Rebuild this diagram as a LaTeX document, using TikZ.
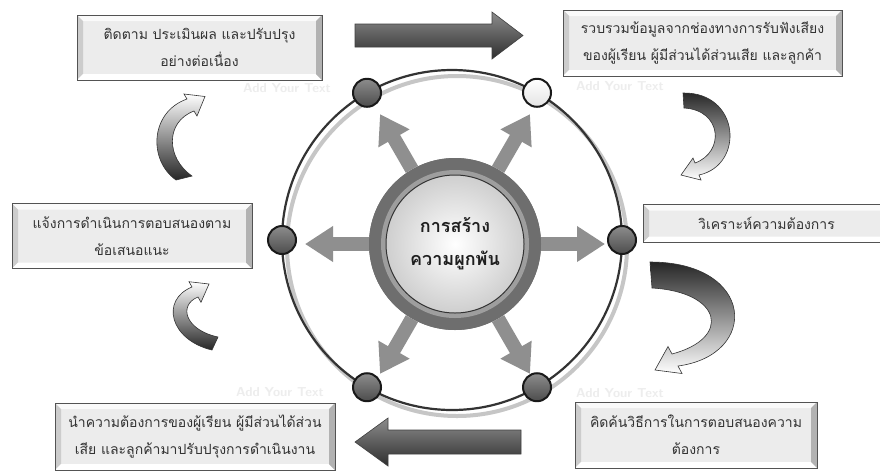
\documentclass[tikz,border=0pt]{standalone}
\usepackage{fontspec}
\setmainfont{Liberation Sans}
\newfontfamily\thaifont[Script=Thai]{Loma}
\usetikzlibrary{arrows.meta,calc}

\begin{document}
\begin{tikzpicture}[x=1pt,y=-1pt,
  panel/.style={rectangle, draw=gray!65!black, line width=0.7pt, fill=gray!15,
    inner sep=0pt, align=center, text=black!80,
    font=\thaifont\fontsize{14}{27}\selectfont,
    path picture={
      \coordinate (pnw) at (path picture bounding box.north west);
      \coordinate (pne) at (path picture bounding box.north east);
      \coordinate (psw) at (path picture bounding box.south west);
      \coordinate (pse) at (path picture bounding box.south east);
      \fill[gray!4] (pnw) -- (pne) -- ([shift={(-6pt,-6pt)}]pne) -- ([shift={(6pt,-6pt)}]pnw) -- cycle;
      \fill[gray!40] (pnw) -- ([shift={(6pt,-6pt)}]pnw) -- ([shift={(6pt,6pt)}]psw) -- (psw) -- cycle;
      \fill[white] (psw) -- ([shift={(6pt,6pt)}]psw) -- ([shift={(-6pt,6pt)}]pse) -- (pse) -- cycle;
      \fill[gray!60] (pse) -- ([shift={(-6pt,6pt)}]pse) -- ([shift={(-6pt,-6pt)}]pne) -- (pne) -- cycle;
    }},
  dot/.style={circle, draw=black!90, line width=2pt, minimum size=28pt, inner sep=0pt,
    top color=black!45, bottom color=black!70},
  lightdot/.style={dot, top color=white, bottom color=gray!22},
  spoke/.style={draw=black!44, line width=14pt,
    -{Triangle[width=34pt,length=28pt]}},
  ghost/.style={text=gray!14, font=\sffamily\bfseries\fontsize{13}{13}\selectfont},
  curv/.style={draw=gray!40!black, line width=0.6pt},
  bigarrow/.style={draw=black!75, line width=0.6pt,
    top color=black!45, bottom color=black!82},
]
\useasboundingbox (0,0) rectangle (880,475);
\fill[white] (0,0) rectangle (880,475);

% main ring with its soft shadow
\coordinate (c) at (452,240);
\draw[gray!45, line width=4pt] (457,246) circle (170pt);
\draw[black!80, line width=2.2pt] (c) circle (170pt);

% ring markers
\node[dot]      (d0)   at ($(c)+(0:170pt)$)   {};
\node[lightdot] (d60)  at ($(c)+(60:170pt)$)  {};
\node[dot]      (d120) at ($(c)+(120:170pt)$) {};
\node[dot]      (d180) at ($(c)+(180:170pt)$) {};
\node[dot]      (d240) at ($(c)+(240:170pt)$) {};
\node[dot]      (d300) at ($(c)+(300:170pt)$) {};

% hub and its spokes
\coordinate (h) at (455,244);
\node[circle, fill=black!57, minimum size=172pt, inner sep=0pt] (hubring) at (h) {};
\foreach \a in {0,60,120,180,240,300}
  \coordinate (t\a) at ($(h)+(\a:150pt)$);
\foreach \a in {0,60,120,180,240,300}
  \draw[spoke] (hubring) -- (t\a);
\node[circle, fill=black!57, minimum size=172pt, inner sep=0pt] at (h) {};
\node[circle, fill=black!38, minimum size=148pt, inner sep=0pt] at (h) {};
\node[circle, draw=black!80, line width=1pt, inner color=white, outer color=gray!38,
  minimum size=138pt, inner sep=0pt, align=center, text=black!88,
  font=\thaifont\bfseries\fontsize{18}{33}\selectfont] (hub) at (h)
  {การสร้าง\\ความผูกพัน};

% faint labels beside the markers
\node[ghost] (g120) at (287,88)  {Add Your Text};
\node[ghost] (g60)  at (620,86)  {Add Your Text};
\node[ghost] (g240) at (280,392) {Add Your Text};
\node[ghost] (g300) at (620,393) {Add Your Text};

% text panels
\node[panel, minimum width=245pt, minimum height=65pt] (tl) at (199.5,47.5)
  {ติดตาม ประเมินผล และปรับปรุง\\อย่างต่อเนื่อง};
\node[panel, minimum width=279pt, minimum height=66pt] (tr) at (702.5,43)
  {รวบรวมข้อมูลจากช่องทางการรับฟังเสียง\\ของผู้เรียน ผู้มีส่วนได้ส่วนเสีย และลูกค้า};
\node[panel, minimum width=240pt, minimum height=65pt] (lf) at (132,236)
  {แจ้งการดำเนินการตอบสนองตาม\\ข้อเสนอแนะ};
\node[panel, minimum width=247pt, minimum height=38pt] (rt) at (766.5,223.5)
  {วิเคราะห์ความต้องการ};
\node[panel, minimum width=280pt, minimum height=67pt] (bl) at (195,436.5)
  {นำความต้องการของผู้เรียน ผู้มีส่วนได้ส่วน\\เสีย และลูกค้ามาปรับปรุงการดำเนินงาน};
\node[panel, minimum width=242pt, minimum height=66pt] (br) at (696,435)
  {คิดค้นวิธีการในการตอบสนองความ\\ต้องการ};

% straight block arrows
\shadedraw[bigarrow] (355,24) -- (492,24) -- (492,12) -- (523,35.5) -- (492,59)
  -- (492,47) -- (355,47) -- cycle;
\shadedraw[bigarrow] (521,430) -- (388,430) -- (388,418) -- (355,442) -- (388,466)
  -- (388,454) -- (521,454) -- cycle;

% curved ribbon arrows
\shadedraw[curv, top color=white, bottom color=black!85]
  (176,180) .. controls (148,160) and (150,112) .. (187,99) -- (184,94) -- (205,96.5)
  -- (197,116) -- (194,111) .. controls (165,122) and (166,158) .. (192,176) -- cycle;
\shadedraw[curv, top color=white, bottom color=black!85]
  (212,350) .. controls (170,340) and (160,300) .. (192,287) -- (189,281.7) -- (209,284)
  -- (201,302.3) -- (198,297) .. controls (178,305) and (185,330) .. (218,337) -- cycle;
\shadedraw[curv, top color=black!85, middle color=gray!55, bottom color=white]
  (683,93) .. controls (740,92) and (745,165) .. (699,175) -- (701,180) -- (681,175)
  -- (693,158) -- (695,163) .. controls (725,152) and (722,110) .. (684,108) -- cycle;
\shadedraw[curv, top color=black!85, middle color=gray!55, bottom color=white]
  (650,262) .. controls (755,262) and (760,355) .. (678,366) -- (682,373.5) -- (655,370)
  -- (668,346.5) -- (672,354) .. controls (732,338) and (722,292) .. (652,288) -- cycle;
\end{tikzpicture}
\end{document}
